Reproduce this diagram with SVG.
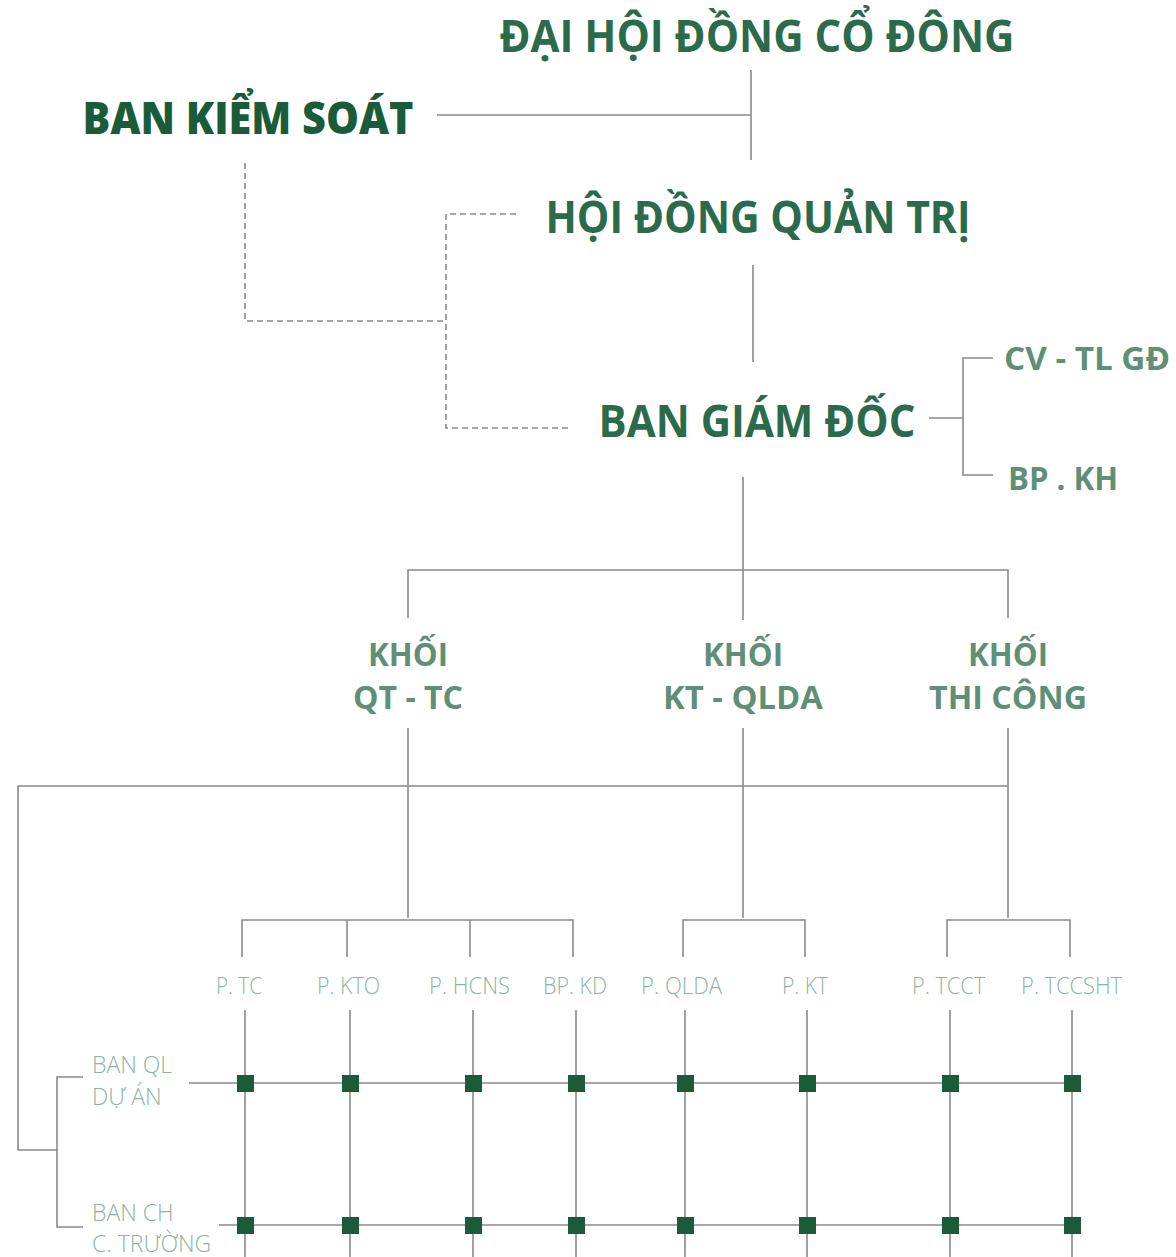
<svg xmlns="http://www.w3.org/2000/svg" width="1176" height="1257" viewBox="0 0 1176 1257">
<style>
.ln{stroke:#8a8a8a;stroke-width:1.6;fill:none}
.ds{stroke:#8a8a8a;stroke-width:1.6;fill:none;stroke-dasharray:6 4}
.t1{font-family:"Open Sans","Noto Sans",sans-serif;font-weight:700;fill:#2b6b4c;text-anchor:middle}
.t0{font-family:"Open Sans","Noto Sans",sans-serif;font-weight:800;fill:#1a5c3a;text-anchor:middle}
.t2{font-family:"Open Sans","Noto Sans",sans-serif;font-weight:700;fill:#5f8f76}
.t3{font-family:"Open Sans","Noto Sans",sans-serif;font-weight:700;fill:#5f8f76;text-anchor:middle;font-size:33px}
.t4{font-family:"Open Sans","Noto Sans",sans-serif;font-weight:300;fill:#8db4a0;font-size:23px}
.sq{fill:#1a5c3a}
</style>
<g id="connectors">
<line class="ln" x1="751" y1="70" x2="751" y2="160"/>
<line class="ln" x1="437" y1="115" x2="751" y2="115"/>
<polyline class="ds" points="245,163 245,321 446,321"/>
<polyline class="ds" points="516,214 446,214 446,428 570,428"/>
<line class="ln" x1="753" y1="265" x2="753" y2="362"/>
<line class="ln" x1="929" y1="418" x2="963" y2="418"/>
<polyline class="ln" points="993,358 963,358 963,475 993,475"/>
<line class="ln" x1="743" y1="477" x2="743" y2="620"/>
<polyline class="ln" points="408,618 408,570 1008,570 1008,618"/>
<line class="ln" x1="408" y1="728" x2="408" y2="918"/>
<line class="ln" x1="743" y1="728" x2="743" y2="918"/>
<line class="ln" x1="1008" y1="728" x2="1008" y2="918"/>
<polyline class="ln" points="1008,786 18,786 18,1150 57,1150"/>
<polyline class="ln" points="83,1077 57,1077 57,1227 83,1227"/>
<polyline class="ln" points="242,957 242,920 573,920 573,957"/>
<line class="ln" x1="347" y1="920" x2="347" y2="957"/>
<line class="ln" x1="470" y1="920" x2="470" y2="957"/>
<polyline class="ln" points="683,957 683,920 805,920 805,957"/>
<polyline class="ln" points="947,957 947,920 1070,920 1070,957"/>
<line class="ln" x1="245" y1="1010" x2="245" y2="1257"/>
<line class="ln" x1="350" y1="1010" x2="350" y2="1257"/>
<line class="ln" x1="473" y1="1010" x2="473" y2="1257"/>
<line class="ln" x1="576" y1="1010" x2="576" y2="1257"/>
<line class="ln" x1="685" y1="1010" x2="685" y2="1257"/>
<line class="ln" x1="807" y1="1010" x2="807" y2="1257"/>
<line class="ln" x1="950" y1="1010" x2="950" y2="1257"/>
<line class="ln" x1="1072" y1="1010" x2="1072" y2="1257"/>
<line class="ln" x1="189" y1="1083" x2="1080" y2="1083"/>
<line class="ln" x1="219" y1="1225" x2="1080" y2="1225"/>
</g>
<g id="dhdcd"><text class="t1" x="757" y="52" font-size="44" textLength="515" lengthAdjust="spacingAndGlyphs">ĐẠI HỘI ĐỒNG CỔ ĐÔNG</text></g>
<g id="bks"><text class="t0" x="248" y="134" font-size="45" textLength="331" lengthAdjust="spacingAndGlyphs">BAN KIỂM SOÁT</text></g>
<g id="hdqt"><text class="t1" x="758" y="233" font-size="44" textLength="425" lengthAdjust="spacingAndGlyphs">HỘI ĐỒNG QUẢN TRỊ</text></g>
<g id="bgd"><text class="t1" x="757" y="437" font-size="44" textLength="317" lengthAdjust="spacingAndGlyphs">BAN GIÁM ĐỐC</text></g>
<g id="cvtl"><text class="t2" x="1004" y="370" font-size="33" textLength="166" lengthAdjust="spacingAndGlyphs">CV - TL GĐ</text></g>
<g id="bpkh"><text class="t2" x="1008" y="490" font-size="33" textLength="110" lengthAdjust="spacingAndGlyphs">BP . KH</text></g>
<g id="khoi1"><text class="t3" x="408" y="666" textLength="80" lengthAdjust="spacingAndGlyphs">KHỐI</text><text class="t3" x="408" y="709" textLength="110" lengthAdjust="spacingAndGlyphs">QT - TC</text></g>
<g id="khoi2"><text class="t3" x="743" y="666" textLength="80" lengthAdjust="spacingAndGlyphs">KHỐI</text><text class="t3" x="743" y="709" textLength="160" lengthAdjust="spacingAndGlyphs">KT - QLDA</text></g>
<g id="khoi3"><text class="t3" x="1008" y="666" textLength="80" lengthAdjust="spacingAndGlyphs">KHỐI</text><text class="t3" x="1008" y="709" textLength="158" lengthAdjust="spacingAndGlyphs">THI CÔNG</text></g>
<g id="ptc"><text class="t4" x="216" y="994" textLength="46" lengthAdjust="spacingAndGlyphs">P. TC</text></g>
<g id="pkto"><text class="t4" x="317" y="994" textLength="63" lengthAdjust="spacingAndGlyphs">P. KTO</text></g>
<g id="phcns"><text class="t4" x="429" y="994" textLength="81" lengthAdjust="spacingAndGlyphs">P. HCNS</text></g>
<g id="bpkd"><text class="t4" x="543" y="994" textLength="64" lengthAdjust="spacingAndGlyphs">BP. KD</text></g>
<g id="pqlda"><text class="t4" x="641" y="994" textLength="81" lengthAdjust="spacingAndGlyphs">P. QLDA</text></g>
<g id="pkt"><text class="t4" x="782" y="994" textLength="46" lengthAdjust="spacingAndGlyphs">P. KT</text></g>
<g id="ptcct"><text class="t4" x="912" y="994" textLength="73" lengthAdjust="spacingAndGlyphs">P. TCCT</text></g>
<g id="ptccsht"><text class="t4" x="1021" y="994" textLength="101" lengthAdjust="spacingAndGlyphs">P. TCCSHT</text></g>
<g id="banql"><text class="t4" x="92" y="1073">BAN QL</text><text class="t4" x="92" y="1105">DỰ ÁN</text></g>
<g id="banch"><text class="t4" x="92" y="1221">BAN CH</text><text class="t4" x="92" y="1252">C. TRƯỜNG</text></g>
<g id="nodes-grid">
<rect class="sq" x="237" y="1075" width="17" height="17"/>
<rect class="sq" x="342" y="1075" width="17" height="17"/>
<rect class="sq" x="465" y="1075" width="17" height="17"/>
<rect class="sq" x="568" y="1075" width="17" height="17"/>
<rect class="sq" x="677" y="1075" width="17" height="17"/>
<rect class="sq" x="799" y="1075" width="17" height="17"/>
<rect class="sq" x="942" y="1075" width="17" height="17"/>
<rect class="sq" x="1064" y="1075" width="17" height="17"/>
<rect class="sq" x="237" y="1217" width="17" height="17"/>
<rect class="sq" x="342" y="1217" width="17" height="17"/>
<rect class="sq" x="465" y="1217" width="17" height="17"/>
<rect class="sq" x="568" y="1217" width="17" height="17"/>
<rect class="sq" x="677" y="1217" width="17" height="17"/>
<rect class="sq" x="799" y="1217" width="17" height="17"/>
<rect class="sq" x="942" y="1217" width="17" height="17"/>
<rect class="sq" x="1064" y="1217" width="17" height="17"/>
</g>
</svg>
